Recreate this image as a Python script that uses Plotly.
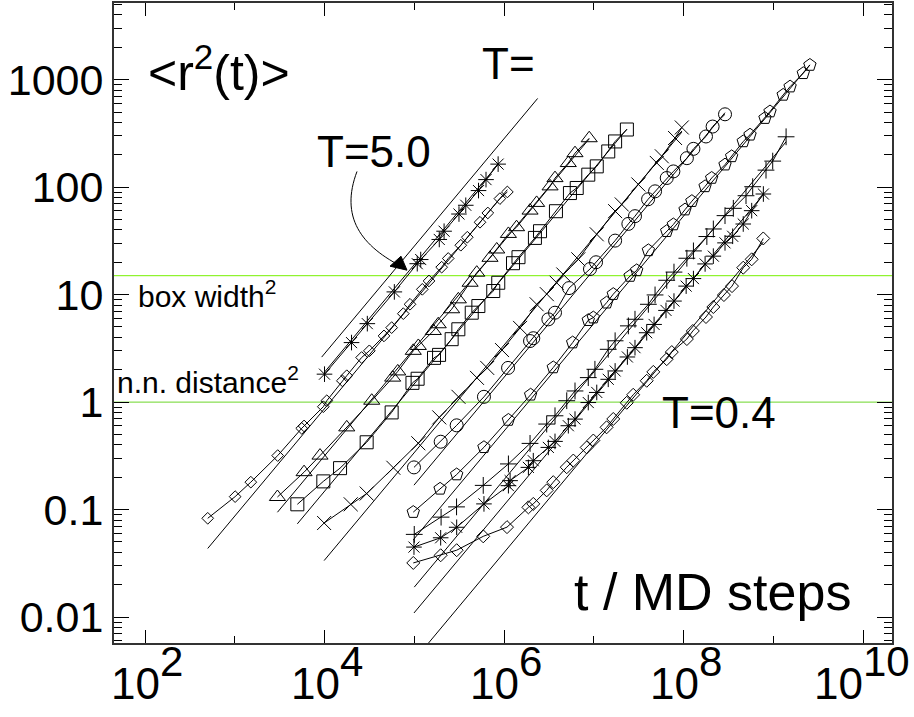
import plotly.graph_objects as go

# ---- mean square displacement <r^2(t)> for a set of temperatures ----
# (t in MD steps, r2 in units of the particle size squared)

t_a1 = [1.0e4, 2.0e4, 3.0e4, 6.0e4, 1.08e5, 1.18e5, 1.9e5, 2.15e5, 3.15e5, 3.75e5, 5.2e5, 6.3e5, 8.6e5]
r2_a1 = [1.82, 3.58, 5.37, 10.6, 19.4, 21.2, 32.6, 38.9, 56.2, 67.8, 92.9, 117.5, 163.7]

t_d1 = [500, 1010, 1510, 3010, 5570, 5920, 9700, 1.06e4, 1.58e4, 1.77e4, 2.59e4, 3.16e4, 4.6e4,
        5.6e4, 7.55e4, 8.97e4, 1.23e5, 1.46e5, 2.02e5, 2.39e5, 3.3e5, 3.9e5, 5.4e5, 6.6e5, 9.0e5, 1.09e6]
r2_d1 = [0.083, 0.132, 0.180, 0.318, 0.570, 0.600, 0.906, 1.03, 1.58, 1.76, 2.60, 3.00, 4.13,
         4.93, 6.65, 8.13, 11.2, 13.4, 18.0, 21.7, 28.8, 34.2, 47.1, 57.5, 78.2, 90.2]

t_tri = [2990, 5920, 8910, 1.77e4, 3.36e4, 5.75e4, 6.55e4, 9.75e4, 1.11e5, 1.63e5, 1.85e5, 2.61e5, 3.10e5,
         4.19e5, 4.97e5, 6.98e5, 8.3e5, 1.12e6, 1.38e6, 1.95e6, 2.31e6, 3.26e6, 3.70e6, 5.2e6, 6.18e6, 8.9e6]
r2_tri = [0.131, 0.223, 0.318, 0.582, 1.03, 1.69, 1.93, 3.0, 3.33, 4.59, 5.30, 7.31, 9.04,
          12.9, 16.0, 22.0, 26.3, 36.7, 42.4, 60.5, 71.3, 101.6, 121.3, 167.5, 207.0, 285.1]

t_sq = [4980, 9700, 1.49e4, 2.95e4, 5.6e4, 9.55e4, 1.09e5, 1.66e5, 1.89e5, 2.61e5, 3.10e5, 4.37e5, 5.18e5,
        7.59e5, 8.63e5, 1.26e6, 1.45e6, 2.21e6, 2.52e6, 3.79e6, 5.43e6, 6.46e6, 8.69e6, 1.08e7, 1.45e7,
        1.73e7, 2.34e7]
r2_sq = [0.112, 0.183, 0.243, 0.423, 0.802, 1.51, 1.65, 2.58, 2.75, 3.85, 4.76, 6.79, 7.83,
         10.8, 12.9, 19.6, 22.3, 33.7, 38.9, 59.7, 88.1, 98.2, 130.6, 156.0, 214.8, 266.1, 343.6]

t_x = [9.9e3, 1.96e4, 2.95e4, 5.85e4, 1.11e5, 1.90e5, 3.11e5, 5.0e5, 6.5e5, 9.5e5, 1.51e6, 2.31e6,
       3.0e6, 3.86e6, 4.58e6, 6.73e6, 1.08e7, 1.73e7, 2.05e7, 3.14e7, 5.04e7, 5.73e7, 8.05e7, 9.57e7]
r2_x = [0.075, 0.112, 0.141, 0.245, 0.414, 0.721, 1.12, 1.68, 2.08, 3.05, 4.90, 8.13,
        10.1, 12.9, 15.4, 21.3, 36.4, 59.8, 69.0, 105.9, 167.9, 193.6, 286.4, 358.9]

t_c = [9.93e4, 1.97e5, 2.97e5, 5.98e5, 1.11e6, 1.95e6, 2.12e6, 3.12e6, 3.70e6, 5.30e6, 9.08e6, 1.06e7,
       1.73e7, 2.43e7, 2.88e7, 4.03e7, 4.82e7, 6.50e7, 7.71e7, 1.09e8, 1.29e8, 1.78e8, 2.11e8, 2.90e8]
r2_c = [0.247, 0.428, 0.608, 1.12, 2.08, 3.70, 3.93, 5.89, 6.79, 11.5, 17.3, 20.0,
        31.8, 45.5, 53.7, 77.1, 91.4, 121.6, 140, 186, 227, 296, 366, 476]

t_p = [9.75e4, 1.94e5, 2.97e5, 5.98e5, 1.12e6, 1.98e6, 3.54e6, 5.82e6, 8.69e6, 9.89e6, 1.39e7, 1.65e7,
       2.54e7, 3.01e7, 4.06e7, 6.50e7, 7.71e7, 1.04e8, 1.24e8, 1.74e8, 2.06e8, 2.90e8, 3.44e8, 4.63e8,
       5.51e8, 8.09e8, 9.20e8, 1.29e9, 1.54e9, 2.16e9, 2.56e9]
r2_p = [0.0948, 0.156, 0.212, 0.380, 0.682, 1.17, 2.10, 3.58, 5.78, 6.11, 8.41, 10.1,
        14.9, 16.8, 25.8, 38.9, 44.9, 61.8, 74.0, 101.6, 121.6, 161.8, 193.2, 266.1,
        306.9, 438.5, 504.7, 721, 861, 1146, 1368]

t_pl = [1.0e5, 1.99e5, 2.96e5, 5.87e5, 1.12e6, 1.95e6, 2.99e6, 3.70e6, 5.0e6, 6.18e6, 8.69e6, 1.03e7,
        1.45e7, 1.73e7, 2.43e7, 2.88e7, 4.06e7, 4.82e7, 6.50e7, 7.83e7, 1.09e8, 1.29e8, 1.82e8, 2.15e8,
        2.90e8, 3.59e8, 4.97e8, 5.90e8, 8.30e8, 9.86e8, 1.39e9]
r2_pl = [0.0588, 0.0851, 0.106, 0.168, 0.266, 0.413, 0.625, 0.746, 1.03, 1.27, 1.69, 2.02,
         3.10, 3.72, 5.12, 5.90, 8.13, 9.93, 13.6, 16.2, 21.8, 25.5, 34.7, 40.8,
         54.3, 63.5, 83.2, 100.9, 143.9, 174.6, 294]

t_a2 = [9.93e4, 1.97e5, 2.97e5, 5.98e5, 1.12e6, 1.17e6, 1.87e6, 2.12e6, 3.12e6, 3.70e6, 5.21e6, 6.18e6,
        8.69e6, 1.08e7, 1.45e7, 1.73e7, 2.37e7, 2.88e7, 3.89e7, 4.70e7, 6.38e7, 7.83e7, 1.07e8, 1.29e8,
        1.74e8, 2.15e8, 2.90e8, 3.53e8, 4.63e8, 5.75e8, 7.76e8]
r2_a2 = [0.0448, 0.0547, 0.0685, 0.113, 0.167, 0.186, 0.247, 0.285, 0.379, 0.431, 0.603, 0.695,
         0.991, 1.23, 1.63, 1.95, 2.63, 3.21, 4.42, 5.28, 7.13, 8.71, 12.0, 14.1,
         19.3, 22.8, 30.3, 34.9, 45.4, 60.4, 86.3]

t_d2 = [9.75e4, 1.97e5, 2.97e5, 5.87e5, 1.08e6, 1.87e6, 2.12e6, 2.99e6, 3.54e6, 5.0e6, 5.92e6, 8.34e6,
        9.89e6, 1.39e7, 1.65e7, 2.33e7, 2.75e7, 3.89e7, 4.61e7, 6.50e7, 7.40e7, 1.09e8, 1.27e8, 1.78e8,
        2.15e8, 2.82e8, 3.47e8, 4.63e8, 5.75e8, 7.74e8]
r2_d2 = [0.0319, 0.0376, 0.0419, 0.0564, 0.0687, 0.105, 0.113, 0.151, 0.180, 0.248, 0.286, 0.379,
         0.439, 0.583, 0.697, 0.986, 1.17, 1.58, 1.91, 2.51, 2.92, 3.86, 4.59, 6.19,
         7.67, 9.91, 12.0, 17.8, 21.3, 33.3]

# long-time diffusive fits  r2 = coef * t  (one per temperature, hot to cold)
fit_coef = [1.9e-4, 8.7e-5, 3.16e-5, 1.48e-5, 3.39e-6, 1.70e-6, 5.37e-7, 1.9e-7, 1.10e-7, 3.98e-8]

# free-particle reference line labelled "T="
free_t = [9.3e3, 2.37e6]
free_coef = 2.82e-4

box_width_sq = 15.0
nn_distance_sq = 1.0

# axis decades
x_decades = [2, 3, 4, 5, 6, 7, 8, 9, 10]
x_label_decades = [2, 4, 6, 8, 10]
y_decades = [-2, -1, 0, 1, 2, 3]
y_ticktext = ["0.01", "0.1", "1", "10", "100", "1000"]

series = [
    (t_a1, r2_a1, "asterisk-open", 13),
    (t_d1, r2_d1, "diamond-open", 9),
    (t_tri, r2_tri, "triangle-up-open", 14),
    (t_sq, r2_sq, "square-open", 13),
    (t_x, r2_x, "x-thin-open", 14),
    (t_c, r2_c, "circle-open", 13),
    (t_p, r2_p, "pentagon-open", 13),
    (t_pl, r2_pl, "cross-thin-open", 12),
    (t_a2, r2_a2, "asterisk-open", 13),
    (t_d2, r2_d2, "diamond-open", 10),
]

X_RANGE = [1.6546, 10.323]
Y_RANGE = [-2.241, 3.713]
FONT = "Liberation Sans"

fig = go.Figure()

# horizontal reference levels
for lvl, col in [(box_width_sq, "#77F000"), (nn_distance_sq, "#6CD62A")]:
    fig.add_trace(go.Scatter(x=[10 ** X_RANGE[0], 10 ** X_RANGE[1]], y=[lvl, lvl], mode="lines",
                             line=dict(color=col, width=1), hoverinfo="skip", showlegend=False))

# fitted straight lines
for (t, r2, sym, sz), c in zip(series, fit_coef):
    tt = [t[0], t[-1]]
    fig.add_trace(go.Scatter(x=tt, y=[c * v for v in tt], mode="lines",
                             line=dict(color="black", width=1), showlegend=False))

fig.add_trace(go.Scatter(x=free_t, y=[free_coef * v for v in free_t], mode="lines",
                         line=dict(color="black", width=1), showlegend=False))

# measured curves
for t, r2, sym, sz in series:
    fig.add_trace(go.Scatter(x=t, y=r2, mode="lines+markers",
                             line=dict(color="black", width=1),
                             marker=dict(symbol=sym, size=sz, color="black", line=dict(width=1, color="black")),
                             showlegend=False))

L, R, T, B = 114, 22, 1, 74
W, H = 914, 717
PW, PH = W - L - R, H - T - B


def paper(x, y):
    return (x - L) / PW, (H - B - y) / PH


def add_text(txt, x, y, size, anchor="left"):
    px, py = paper(x, y)
    fig.add_annotation(text=txt, x=px, y=py, xref="paper", yref="paper", xanchor=anchor, yanchor="middle",
                       showarrow=False, font=dict(size=size, color="black", family=FONT))


add_text("&lt;r<sup>2</sup>(t)&gt;", 146, 67, 50)
add_text("T=", 480, 62, 44)
add_text("T=5.0", 315, 150, 44)
add_text("box width<sup>2</sup>", 136, 293, 30)
add_text("n.n. distance<sup>2</sup>", 115, 379, 30)
add_text("T=0.4", 660, 412, 44)
add_text("t / MD steps", 572, 592, 52)

# x tick labels 10^n: base and a nearly full-size exponent
base_y = paper(0, 657)[1]
exp_y = paper(0, 636)[1]
for d in x_label_decades:
    joint = 15 if d < 10 else 0
    fig.add_annotation(text="10", x=d, xref="x", y=base_y, yref="paper",
                       xanchor="right", yanchor="top", xshift=joint + 2, showarrow=False,
                       font=dict(size=44, color="black", family=FONT))
    fig.add_annotation(text=str(d), x=d, xref="x", y=exp_y, yref="paper",
                       xanchor="left", yanchor="top", xshift=joint - 2, showarrow=False,
                       font=dict(size=42, color="black", family=FONT))

# curved pointer to the hottest curve
p0, c1, c2, p1 = paper(357, 170), paper(340, 215), paper(360, 245), paper(405, 267)
fig.add_shape(type="path", xref="paper", yref="paper",
              path=f"M {p0[0]},{p0[1]} C {c1[0]},{c1[1]} {c2[0]},{c2[1]} {p1[0]},{p1[1]}",
              line=dict(color="black", width=1))
h0, h1, h2 = paper(390, 265), paper(407, 269), paper(401, 255)
fig.add_shape(type="path", xref="paper", yref="paper",
              path=f"M {h0[0]},{h0[1]} L {h1[0]},{h1[1]} L {h2[0]},{h2[1]} Z",
              line=dict(color="black", width=1), fillcolor="black")

x_major = [10.0 ** d for d in x_label_decades]
x_minor = [10.0 ** d for d in x_decades if d not in x_label_decades]
y_major = [10.0 ** d for d in y_decades]
y_minor = [k * 10.0 ** d for d in range(-3, 4) for k in range(2, 10)]

axis_common = dict(type="log", showgrid=False, zeroline=False, showline=True, linecolor="#333",
                   linewidth=2, mirror="ticks", ticks="inside", tickcolor="black", tickwidth=1)

fig.update_xaxes(range=X_RANGE, tickmode="array", tickvals=x_major, showticklabels=False,
                 ticklen=13,
                 minor=dict(tickmode="array", tickvals=x_minor, ticks="inside", ticklen=7,
                            tickcolor="black", showgrid=False),
                 **axis_common)
fig.update_yaxes(range=Y_RANGE, tickmode="array", tickvals=y_major, ticktext=y_ticktext, ticklen=15,
                 tickfont=dict(family=FONT, size=43, color="black"),
                 minor=dict(tickmode="array", tickvals=y_minor, ticks="inside", ticklen=8,
                            tickcolor="black", showgrid=False),
                 ticklabelstandoff=0, **axis_common)

fig.update_layout(width=W, height=H, margin=dict(l=L, r=R, t=T, b=B),
                  plot_bgcolor="white", paper_bgcolor="white", showlegend=False)

fig.write_html("out.html")
